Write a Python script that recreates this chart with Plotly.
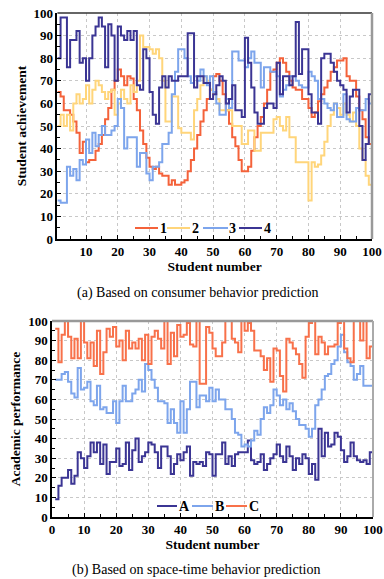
import plotly.graph_objects as go

W, H = 384, 579

# ---------------- data ----------------
students_a = list(range(1, 101))
s1 = [65, 63, 57, 57, 55, 52, 47, 38, 43, 34,
      35, 35, 39, 42, 46, 53, 58, 66, 70, 75,
      72, 68, 72, 71, 62, 57, 48, 42, 36, 32,
      31, 32, 29, 28, 28, 24, 26, 24, 24, 25,
      26, 30, 35, 40, 46, 52, 57, 62, 66, 72,
      73, 70, 64, 57, 51, 45, 41, 35, 30, 30,
      32, 39, 45, 50, 54, 60, 66, 74, 75, 78,
      80, 78, 74, 70, 67, 66, 66, 62, 62, 58,
      54, 56, 61, 64, 67, 70, 74, 76, 79, 79,
      80, 72, 70, 70, 63, 57, 53, 45, 42, 38]
s2 = [50, 55, 50, 55, 48, 60, 64, 60, 62, 68,
      60, 66, 70, 68, 65, 62, 65, 66, 55, 60,
      66, 62, 60, 68, 65, 70, 90, 85, 85, 84,
      82, 84, 80, 70, 52, 52, 63, 63, 49, 47,
      47, 47, 44, 57, 62, 68, 72, 70, 66, 64,
      62, 57, 57, 57, 57, 50, 50, 50, 42, 42,
      48, 48, 39, 39, 47, 47, 47, 47, 53, 54,
      50, 48, 54, 45, 45, 34, 34, 34, 34, 17,
      34, 32, 33, 37, 43, 50, 55, 60, 58, 55,
      60, 55, 52, 56, 50, 40, 35, 28, 24, 24]
s3 = [17, 16, 16, 32, 28, 31, 26, 35, 33, 44,
      38, 47, 41, 46, 50, 46, 46, 48, 50, 62,
      58, 40, 45, 45, 45, 32, 38, 38, 29, 26,
      32, 32, 34, 42, 42, 47, 64, 74, 84, 84,
      80, 72, 69, 72, 70, 75, 72, 68, 72, 65,
      60, 55, 55, 62, 58, 83, 83, 79, 79, 76,
      80, 83, 78, 78, 67, 76, 76, 74, 74, 72,
      63, 66, 68, 72, 72, 70, 68, 67, 67, 74,
      72, 70, 62, 62, 60, 58, 57, 60, 54, 54,
      64, 53, 52, 52, 58, 57, 57, 62, 60, 65]
s4 = [80, 98, 98, 76, 88, 88, 92, 78, 80, 70,
      80, 90, 94, 98, 94, 76, 95, 90, 70, 94,
      90, 88, 92, 88, 92, 68, 66, 84, 80, 65,
      55, 51, 67, 72, 67, 72, 70, 70, 72, 72,
      72, 91, 91, 67, 72, 72, 69, 69, 62, 64,
      68, 72, 70, 60, 62, 68, 57, 57, 54, 89,
      78, 67, 56, 51, 51, 58, 60, 60, 58, 78,
      64, 72, 72, 68, 72, 96, 73, 84, 84, 64,
      56, 56, 51, 80, 82, 82, 78, 74, 70, 68,
      66, 56, 63, 66, 66, 50, 35, 42, 64, 64]

students_b = list(range(1, 101))
sA = [9, 16, 20, 20, 24, 17, 21, 33, 30, 25,
      31, 38, 33, 38, 27, 37, 22, 28, 28, 35,
      26, 27, 38, 24, 34, 40, 28, 31, 33, 38,
      37, 33, 25, 36, 36, 31, 22, 27, 32, 29,
      33, 36, 21, 28, 27, 28, 26, 33, 32, 21,
      32, 32, 38, 27, 31, 26, 32, 33, 33, 33,
      39, 29, 27, 28, 32, 24, 27, 30, 32, 37,
      31, 28, 36, 31, 24, 30, 27, 32, 30, 22,
      27, 19, 45, 31, 43, 36, 37, 43, 41, 34,
      28, 31, 38, 31, 29, 28, 29, 27, 33, 33]
sB = [70, 70, 73, 74, 69, 63, 61, 76, 65, 66,
      69, 59, 57, 67, 55, 56, 53, 53, 59, 48,
      59, 67, 59, 59, 63, 65, 70, 64, 78, 75,
      70, 66, 59, 59, 58, 48, 55, 48, 43, 59,
      43, 55, 69, 69, 56, 62, 62, 59, 66, 59,
      65, 60, 60, 55, 55, 50, 43, 42, 36, 37,
      36, 39, 44, 42, 50, 56, 53, 57, 65, 62,
      57, 60, 55, 58, 54, 50, 47, 47, 45, 41,
      45, 57, 60, 65, 72, 73, 78, 80, 87, 93,
      84, 79, 77, 70, 73, 77, 67, 67, 67, 52]
sC = [96, 79, 93, 100, 92, 81, 91, 81, 100, 89,
      81, 89, 77, 95, 73, 84, 96, 92, 97, 87,
      90, 80, 95, 86, 89, 86, 91, 80, 93, 78,
      92, 95, 91, 86, 100, 78, 94, 82, 98, 92,
      93, 99, 88, 87, 100, 68, 68, 97, 94, 86,
      82, 82, 89, 100, 100, 91, 89, 84, 100, 95,
      99, 95, 85, 85, 82, 75, 81, 69, 86, 85,
      72, 64, 91, 89, 86, 83, 78, 71, 92, 99,
      100, 83, 92, 89, 83, 87, 87, 88, 99, 100,
      86, 81, 79, 100, 100, 90, 100, 81, 87, 87]

names_a = ["1", "2", "3", "4"]
names_b = ["A", "B", "C"]
colors_a = ["#F4623A", "#FFD57A", "#7DA5EC", "#3B3594"]
colors_b = ["#3B3594", "#7DA5EC", "#F8714A"]

# ---------------- figure ----------------
def px(x):  # screen pixel -> paper fraction
    return x / W

def py(y):
    return 1 - y / H

fig = go.Figure()
for name, ys, c in zip(names_a, [s1, s2, s3, s4], colors_a):
    fig.add_trace(go.Scatter(x=students_a, y=ys, mode="lines", name=name,
                             line=dict(color=c, width=2, shape="hv"),
                             xaxis="x", yaxis="y", showlegend=False))
for name, ys, c in zip(names_b, [sA, sB, sC], colors_b):
    fig.add_trace(go.Scatter(x=students_b, y=ys, mode="lines", name=name,
                             line=dict(color=c, width=2, shape="hv"),
                             xaxis="x2", yaxis="y2", showlegend=False))

serif = "Liberation Serif"
tickf = dict(family=serif, size=13, color="black", weight="bold")
titlef = dict(family=serif, size=13.5, color="black", weight="bold")

def axis_common(**kw):
    d = dict(showline=True, linecolor="black", linewidth=1.5,
             ticks="inside", ticklen=4, tickcolor="black", tickwidth=1,
             showgrid=True, gridcolor="#c8c8c8", griddash="dot", gridwidth=1,
             zeroline=False, tickfont=tickf, automargin=False,
             ticklabeloverflow="allow",
             minor=dict(ticks="inside", ticklen=3, tickcolor="black", dtick=5, tick0=0, showgrid=False))
    d.update(kw)
    return d

dom_ax = [px(57.4), px(372)]
dom_ay = [py(239), py(13)]
dom_bx = [px(52), px(373)]
dom_by = [py(517), py(321)]

fig.update_layout(
    width=W, height=H,
    margin=dict(l=0, r=0, t=0, b=0),
    paper_bgcolor="white", plot_bgcolor="white",
    showlegend=False,
    xaxis=axis_common(domain=dom_ax, anchor="y", range=[1, 100], tick0=0, dtick=10,
                      title=dict(text="Student number", font=titlef, standoff=2)),
    yaxis=axis_common(domain=dom_ay, anchor="x", range=[0, 100], tick0=0, dtick=10,
                      title=dict(text="Student achievement", font=titlef, standoff=4)),
    xaxis2=axis_common(domain=dom_bx, anchor="y2", range=[0, 100], tick0=0, dtick=10,
                       title=dict(text="Student number", font=titlef, standoff=2)),
    yaxis2=axis_common(domain=dom_by, anchor="x2", range=[0, 100], tick0=0, dtick=10,
                       title=dict(text="Academic performance", font=titlef, standoff=4)),
)

shapes = []
# frame borders (top / right)
shapes.append(dict(type="line", xref="paper", yref="paper", x0=dom_ax[0], x1=dom_ax[1], y0=dom_ay[1], y1=dom_ay[1],
                   line=dict(color="#333333", width=1.5)))
shapes.append(dict(type="line", xref="paper", yref="paper", x0=dom_ax[1], x1=dom_ax[1], y0=dom_ay[0], y1=dom_ay[1],
                   line=dict(color="#999999", width=2.5)))
shapes.append(dict(type="line", xref="paper", yref="paper", x0=dom_bx[0], x1=dom_bx[1], y0=dom_by[1], y1=dom_by[1],
                   line=dict(color="#999999", width=2.5)))
shapes.append(dict(type="line", xref="paper", yref="paper", x0=dom_bx[1], x1=dom_bx[1], y0=dom_by[0], y1=dom_by[1],
                   line=dict(color="#aaaaaa", width=2)))

annotations = []
# manual legends
leg_a = [(135, 158, 163), (167, 190, 195), (203, 228, 232), (239, 262, 267)]
for (x0, x1, xt), name, c in zip(leg_a, names_a, colors_a):
    shapes.append(dict(type="line", xref="paper", yref="paper", x0=px(x0), x1=px(x1), y0=py(228), y1=py(228),
                       line=dict(color=c, width=2)))
    annotations.append(dict(text=name, x=px(xt), y=py(228), xref="paper", yref="paper", showarrow=False,
                            font=dict(family=serif, size=14, color="black", weight="bold"),
                            xanchor="center", yanchor="middle"))
leg_b = [(157, 177, 184), (192, 213, 219), (226, 247, 254)]
for (x0, x1, xt), name, c in zip(leg_b, names_b, colors_b):
    shapes.append(dict(type="line", xref="paper", yref="paper", x0=px(x0), x1=px(x1), y0=py(506), y1=py(506),
                       line=dict(color=c, width=2)))
    annotations.append(dict(text=name, x=px(xt), y=py(506), xref="paper", yref="paper", showarrow=False,
                            font=dict(family=serif, size=14, color="black", weight="bold"),
                            xanchor="center", yanchor="middle"))

# captions
annotations.append(dict(text="(a) Based on consumer behavior prediction", x=px(197), y=py(293),
                        xref="paper", yref="paper", showarrow=False,
                        font=dict(family=serif, size=14, color="black"), xanchor="center", yanchor="middle"))
annotations.append(dict(text="(b) Based on space-time behavior prediction", x=px(196), y=py(570),
                        xref="paper", yref="paper", showarrow=False,
                        font=dict(family=serif, size=14, color="black"), xanchor="center", yanchor="middle"))

fig.update_layout(shapes=shapes, annotations=annotations)
fig.write_html("out.html",
               config={"displayModeBar": False},
               post_script="document.documentElement.style.margin='0';"
                           "document.body.style.margin='0';"
                           "document.body.style.overflow='hidden';")
